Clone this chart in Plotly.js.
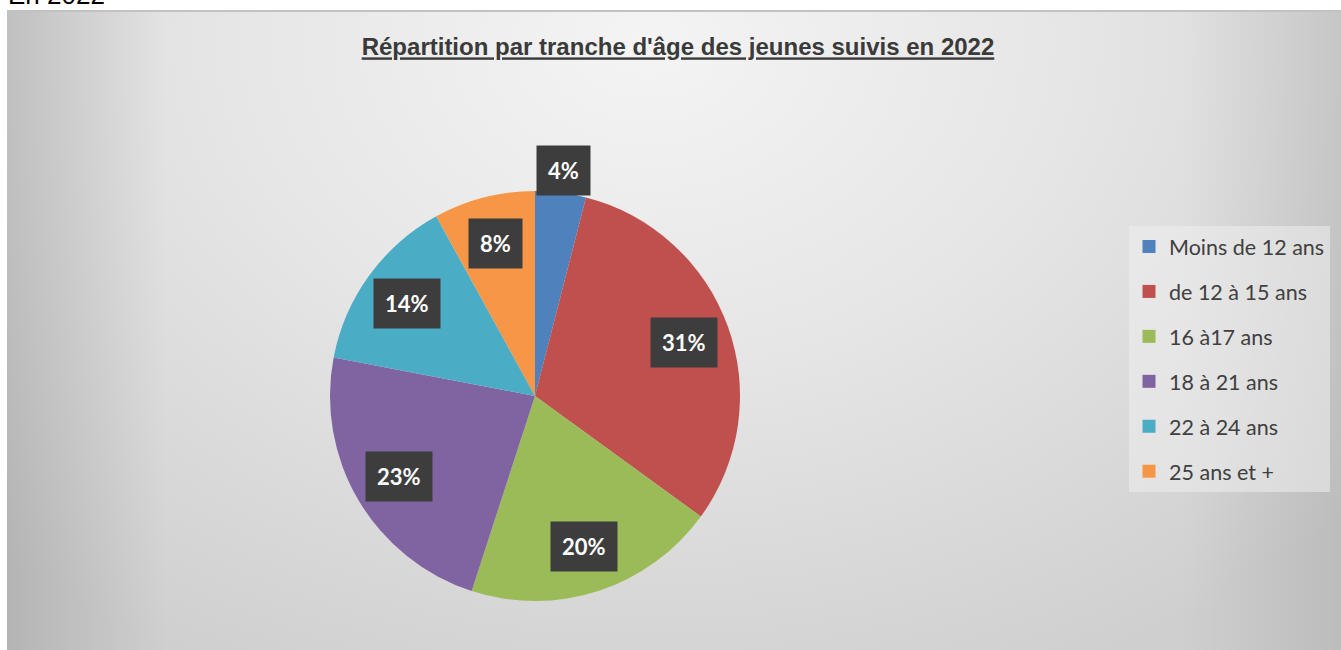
<!DOCTYPE html>
<html>
<head>
<meta charset="utf-8">
<script src="https://cdn.plot.ly/plotly-3.0.1.min.js"></script>
<style>
  body { margin: 0; background: #ffffff; width: 1341px; height: 650px; overflow: hidden; position: relative; }
  #topText { position: absolute; left: 8px; top: -20px; font: 26px "Liberation Sans", Arial, sans-serif; color: #000; }
  #chart {
    position: absolute; left: 7px; top: 10px; width: 1334px; height: 640px;
    border-top: 2px solid #c2c2c2; box-sizing: border-box;
    background:
      linear-gradient(to right, rgba(0,0,0,0.13) 0%, rgba(0,0,0,0) 12%, rgba(0,0,0,0) 88%, rgba(0,0,0,0.09) 100%),
      radial-gradient(ellipse 70% 110% at 48% 5%, #f4f4f4 0%, #e6e6e6 45%, #cfcfcf 100%);
  }
</style>
</head>
<body>
<div id="topText">En 2022</div>
<div id="chart"></div>
<script>
// données
var tranches = ['Moins de 12 ans', 'de 12 à 15 ans', '16 à17 ans', '18 à 21 ans', '22 à 24 ans', '25 ans et +'];
var pourcentages = [4, 31, 20, 23, 14, 8];
var couleurs = ['#4f81bd', '#c0504d', '#9bbb59', '#8064a2', '#4bacc6', '#f79646'];

var W = 1334, H = 638;
var cx = 528, cy = 384, R = 205; // centre et rayon du camembert (px)

var data = [{
    type: 'pie',
    labels: tranches,
    values: pourcentages,
    sort: false,
    direction: 'clockwise',
    rotation: 0,
    textinfo: 'none',
    hoverinfo: 'label+percent',
    marker: {colors: couleurs, line: {width: 0}},
    showlegend: false,
    domain: {x: [(cx - R) / W, (cx + R) / W], y: [1 - (cy + R) / H, 1 - (cy - R) / H]}
}];

// légende : une entrée par tranche
for (var i = 0; i < tranches.length; i++) {
    data.push({
        type: 'scatter', mode: 'markers', x: [null], y: [null],
        name: tranches[i], legendgroup: 'g' + i,
        marker: {symbol: 'square', size: 13, color: couleurs[i]},
        hoverinfo: 'skip'
    });
}

// étiquettes en boîte sombre
var total = pourcentages.reduce(function(a, b) { return a + b; }, 0);
var annotations = [];
var cumul = 0;
for (var j = 0; j < pourcentages.length; j++) {
    var mid = (cumul + pourcentages[j] / 2) / total * 2 * Math.PI;
    cumul += pourcentages[j];
    var f = pourcentages[j] / total < 0.05 ? 1.11 : 0.77;
    annotations.push({
        xref: 'paper', yref: 'paper',
        x: (cx + f * R * Math.sin(mid)) / W,
        y: 1 - (cy - f * R * Math.cos(mid)) / H,
        xanchor: 'center', yanchor: 'middle',
        text: '<b>' + pourcentages[j] + '%</b>',
        showarrow: false,
        font: {family: 'Lato, "Open Sans", sans-serif', size: 22, color: '#ffffff'},
        bgcolor: '#3d3d3d',
        borderpad: 11
    });
}

var layout = {
    width: W, height: H,
    margin: {l: 0, r: 0, t: 0, b: 0},
    paper_bgcolor: 'rgba(0,0,0,0)',
    plot_bgcolor: 'rgba(0,0,0,0)',
    title: {
        text: "<u>Répartition par tranche d'âge des jeunes suivis en 2022</u>",
        font: {family: '"Liberation Sans Narrow", "Arial Narrow", Arial, sans-serif', size: 24, color: '#3a3a3a', weight: 'bold'},
        x: 0.503, xanchor: 'center', y: 1 - 35 / H, yanchor: 'middle'
    },
    xaxis: {visible: false},
    yaxis: {visible: false},
    showlegend: true,
    legend: {
        x: 1122 / W, xanchor: 'left', y: 1 - 214 / H, yanchor: 'top',
        bgcolor: 'rgba(238,238,238,0.55)',
        font: {family: 'Lato, "Open Sans", sans-serif', size: 21.5, color: '#404040'},
        traceorder: 'grouped', tracegroupgap: 14,
        itemclick: false
    },
    annotations: annotations
};

Plotly.newPlot('chart', data, layout, {displayModeBar: false, staticPlot: true});
</script>
</body>
</html>
